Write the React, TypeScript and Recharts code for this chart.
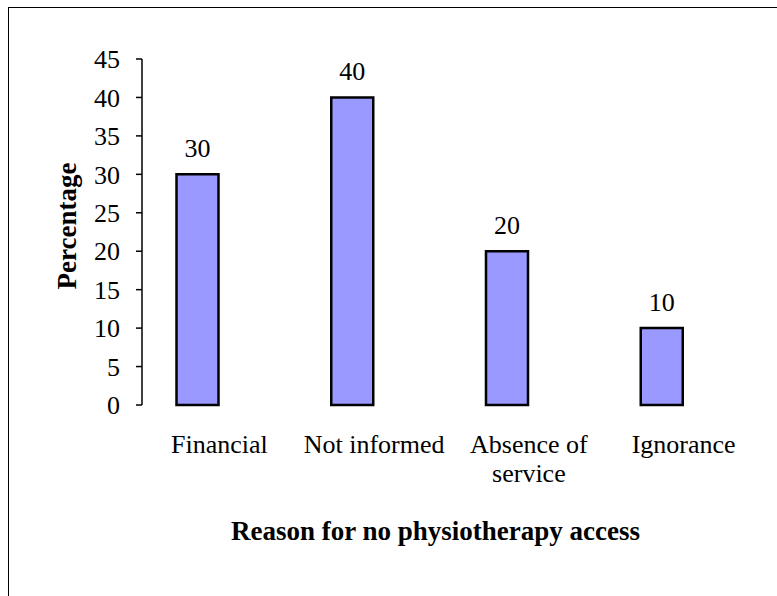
import React from "react";
import { BarChart, Bar, XAxis, YAxis, Rectangle } from "recharts";

// category names; "\n" marks where the tick label wraps
const reasons = ["Financial", "Not informed", "Absence of\nservice", "Ignorance"];
const percentages = [30, 40, 20, 10];
const yTicks = [0, 5, 10, 15, 20, 25, 30, 35, 40, 45];
const edgeTicks = [0, 1, 2, 3, 4];

const data = reasons.map((reason, i) => ({ reason, value: percentages[i] }));

const FONT = "'Liberation Serif', 'Times New Roman', serif";
const BAR_SHIFT = -21.5;
const tickStyle = { fontSize: 26, fontFamily: FONT, fill: "#000" };
const titleStyle = { fontSize: 27, fontFamily: FONT, fontWeight: "bold", fill: "#000" };

const CategoryTick = (props: any) => {
  const { x, y, payload } = props;
  const lines = String(payload.value).split("\n");
  return (
    <text x={x} y={y} textAnchor="middle" style={tickStyle}>
      {lines.map((line, i) => (
        <tspan key={i} x={x} dy={i === 0 ? 18.5 : 29.4}>
          {line}
        </tspan>
      ))}
    </text>
  );
};

const ShiftedBar = (props: any) => <Rectangle {...props} x={props.x + BAR_SHIFT} />;

export default function App() {
  return (
    <div
      style={{
        position: "absolute",
        left: 0,
        top: 0,
        width: 777,
        height: 596,
        background: "#fff",
        fontFamily: FONT,
      }}
    >
      <div
        style={{
          position: "absolute",
          left: 8,
          top: 7,
          width: 780,
          height: 600,
          borderTop: "1px solid #000",
          borderLeft: "1px solid #000",
        }}
      />
      <BarChart
        width={777}
        height={596}
        data={data}
        margin={{ top: 59, right: 16, left: 62, bottom: 111 }}
        style={{ fontFamily: FONT }}
      >
        <XAxis
          xAxisId="edges"
          type="number"
          domain={[0, 4]}
          ticks={edgeTicks}
          allowDataOverflow
          tickFormatter={() => ""}
          tickSize={8}
          height={0}
          axisLine={{ stroke: "#000", strokeWidth: 1.5 }}
          tickLine={{ stroke: "#000", strokeWidth: 1.5 }}
        />
        <XAxis
          xAxisId="cat"
          dataKey="reason"
          axisLine={false}
          tickLine={false}
          tickSize={0}
          tickMargin={29}
          height={80}
          interval={0}
          tick={(p: any) => <CategoryTick {...p} />}
          label={{
            value: "Reason for no physiotherapy access",
            position: "bottom",
            offset: 36,
            dx: -16,
            style: titleStyle,
          }}
        />
        <YAxis
          width={80}
          domain={[0, 45]}
          ticks={yTicks}
          interval={0}
          tickSize={6}
          tickMargin={16}
          axisLine={{ stroke: "#000", strokeWidth: 1.5 }}
          tickLine={{ stroke: "#000", strokeWidth: 1.5 }}
          tick={{ style: tickStyle }}
          label={{
            value: "Percentage",
            angle: -90,
            position: "insideLeft",
            offset: 4,
            dy: -6,
            style: { ...titleStyle, textAnchor: "middle" },
          }}
        />
        <Bar
          xAxisId="cat"
          dataKey="value"
          fill="#9999FF"
          stroke="#000"
          strokeWidth={2.5}
          barSize={42}
          shape={<ShiftedBar />}
          isAnimationActive={false}
          label={{
            position: "top",
            offset: 17,
            dx: BAR_SHIFT,
            style: tickStyle,
          }}
        />
      </BarChart>
    </div>
  );
}
